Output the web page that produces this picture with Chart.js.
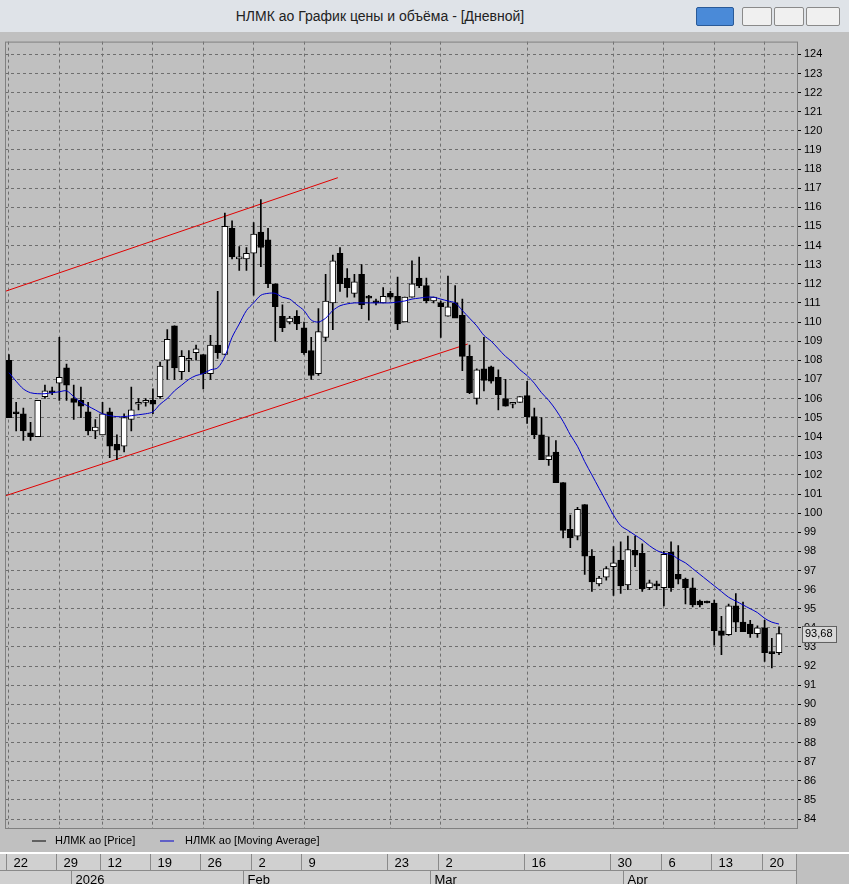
<!DOCTYPE html>
<html><head><meta charset="utf-8">
<script src="https://cdn.jsdelivr.net/npm/chart.js@4.4.1/dist/chart.umd.min.js"></script>
<style>
body{margin:0;width:849px;height:884px;overflow:hidden;background:#c0c0c0;font-family:"Liberation Sans",Arial,sans-serif;}
#title{position:absolute;left:0;top:0;width:849px;height:32px;background:#dfe3e8;border-bottom:1px solid #a8a8a8;}
#title .t{position:absolute;left:0;width:760px;top:8px;text-align:center;font-size:14px;color:#222;}
.btn{position:absolute;top:7px;height:17px;border:1px solid #8a8a8a;background:#f0f0f0;border-radius:2px;}
#wrap{position:absolute;left:0;top:32px;width:849px;height:852px;}
</style></head><body>
<div id="title"><div class="t">НЛМК ао График цены и объёма - [Дневной]</div>
<div class="btn" style="left:696px;width:36px;background:#4a8ad8;border-color:#2a5a98"></div>
<div class="btn" style="left:742px;width:28px"></div>
<div class="btn" style="left:774px;width:28px"></div>
<div class="btn" style="left:806px;width:32px"></div></div>
<div id="wrap"><canvas id="c" width="849" height="852"></canvas></div>
<script>
// candles: open, high, low, close
const opens=[108.0,105.3,105.2,104.2,104.0,106.1,106.4,106.8,107.6,106.0,105.9,105.3,104.3,104.1,105.3,103.6,103.5,104.9,105.7,105.8,105.9,106.1,108.0,109.8,107.4,108.0,108.4,108.3,107.3,108.8,108.3,114.9,113.3,113.3,113.6,114.7,114.3,112.0,110.3,110.0,110.3,109.7,108.5,107.3,109.2,111.0,113.6,112.3,111.5,112.5,111.3,111.1,111.0,111.5,111.35,110.0,111.3,112.3,111.9,111.1,111.0,110.3,111.0,110.35,108.2,106.0,107.55,107.65,107.1,106.0,105.7,105.8,106.15,105.05,104.1,102.8,103.2,101.6,99.15,98.8,100.45,97.75,96.3,96.65,97.2,97.55,96.25,98.05,97.9,96.1,96.25,96.1,97.95,96.8,96.55,96.1,95.4,95.35,95.3,93.85,93.65,95.15,94.3,94.2,93.7,94.0,92.7,92.7];
const highs=[108.3,105.8,105.5,104.75,105.9,106.7,106.6,109.2,107.8,106.7,106.6,105.8,104.9,105.8,105.5,104.1,105.2,106.6,106.0,106.0,106.5,107.9,109.6,109.8,108.5,108.5,108.8,108.3,109.3,111.6,115.7,115.3,113.95,113.9,115.2,116.4,114.9,112.0,110.9,110.3,110.6,110.0,109.2,110.7,112.5,113.5,113.9,112.8,112.5,113.0,111.4,111.2,111.8,111.6,112.35,111.3,113.2,113.4,112.3,111.3,111.1,112.4,111.9,111.2,108.8,107.55,109.2,107.7,107.5,107.0,105.8,106.1,106.9,105.5,105.0,104.0,103.8,101.6,99.9,100.3,100.45,98.1,96.7,97.2,98.25,98.5,98.8,98.8,98.4,96.5,96.45,98.0,98.5,98.3,96.6,96.6,95.45,95.4,95.45,94.6,95.25,95.8,95.35,94.4,94.1,94.4,93.45,94.05];
const lows=[105.0,104.3,103.8,103.8,104.0,106.0,106.2,105.9,105.9,104.9,105.0,104.1,103.9,104.1,102.9,102.8,103.2,104.3,105.4,105.6,105.2,106.0,107.0,107.0,107.0,107.4,108.0,106.5,107.0,108.1,108.3,113.3,112.7,112.7,111.4,112.9,111.8,109.0,109.5,109.9,109.6,108.3,107.0,107.2,109.0,109.6,111.6,111.3,111.3,110.7,110.1,110.9,111.0,111.2,109.6,110.0,111.3,111.8,111.0,111.0,109.2,110.3,110.6,107.45,106.25,105.7,106.4,106.8,105.4,105.6,105.5,105.8,104.7,103.9,102.8,102.5,101.6,98.7,98.2,98.6,96.8,95.9,96.2,96.5,95.7,95.8,96.0,97.2,95.9,96.0,96.0,95.15,95.9,96.3,95.25,95.1,95.1,95.3,93.1,92.6,93.6,93.8,93.8,93.5,93.5,92.25,91.9,92.6];
const closes=[105.0,105.2,104.3,104.0,105.9,106.4,106.3,107.1,106.7,105.8,105.6,104.3,104.5,105.2,103.5,103.3,105.0,105.4,105.8,105.8,105.7,107.7,109.1,107.6,108.2,108.0,108.6,107.3,108.8,108.4,115.0,113.4,113.3,113.6,114.6,113.9,112.0,110.8,109.7,110.2,109.9,108.4,107.2,109.5,111.1,113.2,112.0,111.8,112.1,110.9,111.25,111.0,111.35,111.3,109.9,111.3,112.0,111.9,111.1,111.3,110.8,110.8,110.2,108.2,106.3,107.5,106.95,106.9,106.2,105.6,105.8,106.1,105.05,104.1,102.8,103.0,101.6,99.1,98.7,100.2,97.75,96.4,96.6,97.1,97.4,96.2,98.1,97.8,96.05,96.35,96.2,97.85,96.1,96.55,96.1,95.2,95.2,95.3,93.85,93.6,95.15,94.3,93.8,93.7,94.0,92.7,92.65,93.7];
const movingAvg=[107.35,106.9,106.5,106.3,106.25,106.25,106.3,106.35,106.4,106.1,105.8,105.6,105.4,105.2,105.1,105.05,105.05,105.1,105.15,105.2,105.3,105.7,106.0,106.4,106.7,107.0,107.2,107.3,107.5,107.6,108.2,109.2,109.9,110.6,111.0,111.4,111.5,111.5,111.3,111.2,110.9,110.6,110.1,110.0,110.2,110.6,110.85,110.95,111.0,111.0,111.0,111.0,111.0,111.0,111.05,111.1,111.2,111.25,111.3,111.3,111.2,111.1,111.0,110.6,110.2,109.8,109.3,109.0,108.6,108.2,107.9,107.5,107.2,106.8,106.3,105.9,105.4,104.8,104.1,103.5,102.7,102.0,101.3,100.6,99.9,99.35,99.1,98.85,98.6,98.3,98.05,97.9,97.85,97.6,97.4,97.1,96.8,96.5,96.2,95.9,95.6,95.4,95.2,95.0,94.8,94.5,94.3,94.2];
const trendUpper=[[-0.56,111.6],[45.7,117.55]];
const trendLower=[[-0.56,100.9],[63.75,108.85]];
const dayTickIdx=[0,7,13,20,27,34,41,53,60,72,84,91,98,105];
const dayTickLabels=["22","29","12","19","26","2","9","23","2","16","30","6","13","20"];
const monthIdx=[9.0,33.0,58.9,85.8];
const monthLabels=["2026","Feb","Mar","Apr"];
const lastPrice=93.68;

const idx=opens.map((_,i)=>i);
const wick=idx.map(i=>({x:i,y:[lows[i],highs[i]]}));
const body=idx.map(i=>({x:i,y:[opens[i],closes[i]]}));
const bodyColor=idx.map(i=>closes[i]>=opens[i]?'#ffffff':'#000000');

const extra={id:'extra',afterDraw(ch){
 const c=ch.ctx,a=ch.chartArea,xs=ch.scales.x,ys=ch.scales.y;
 c.save();
 c.strokeStyle='#808080';c.lineWidth=1;c.strokeRect(a.left+0.5,a.top+0.5,a.right-a.left,a.bottom-a.top);
 const py=ys.getPixelForValue(lastPrice);
 c.fillStyle='#d8d8d8';c.fillRect(a.right+5,py-8,34,16);c.strokeStyle='#606060';c.strokeRect(a.right+5.5,py-7.5,34,16);
 c.fillStyle='#000';c.font='11px "Liberation Sans", Arial';c.textBaseline='middle';c.fillText('93,68',a.right+8,py);
 const ly=a.bottom+13;
 c.strokeStyle='#000';c.beginPath();c.moveTo(32,ly);c.lineTo(46,ly);c.stroke();
 c.strokeStyle='#0000cc';c.beginPath();c.moveTo(160,ly);c.lineTo(174,ly);c.stroke();
 c.fillStyle='#000';c.font='11px "Liberation Sans Narrow","Liberation Sans", Arial';
 c.fillText('НЛМК ао [Price]',55,ly);c.fillText('НЛМК ао [Moving Average]',185,ly);
 c.fillStyle='#ffffff';c.fillRect(0,a.bottom+24,849,2);
 const top=a.bottom+26;
 c.fillStyle='#d0d0d0';c.fillRect(0,top,849,40);
 c.fillStyle='#c0c0c0';c.fillRect(796,top,53,40);
 c.strokeStyle='#8a8a8a';c.lineWidth=1;
 c.beginPath();c.moveTo(0,top+16.5);c.lineTo(796,top+16.5);c.stroke();
 c.font='13px "Liberation Sans Narrow","Liberation Sans", Arial';c.fillStyle='#000';c.textBaseline='middle';
 dayTickIdx.forEach((v,k)=>{const x=Math.round(xs.getPixelForValue(v))-2.5;
  c.beginPath();c.moveTo(x,top);c.lineTo(x,top+16);c.stroke();c.fillText(dayTickLabels[k],x+7,top+9);});
 monthIdx.forEach((v,k)=>{const x=Math.round(xs.getPixelForValue(v))-2.5;
  c.beginPath();c.moveTo(x,top+17);c.lineTo(x,top+34);c.stroke();c.fillText(monthLabels[k],x+4,top+26);});
 c.beginPath();c.moveTo(796.5,top);c.lineTo(796.5,top+34);c.stroke();
 c.restore();
}};
const bg={id:'bg',beforeDraw(ch){const c=ch.ctx;c.save();c.fillStyle='#c0c0c0';c.fillRect(0,0,ch.width,ch.height);c.restore();}};

new Chart(document.getElementById('c'),{
 data:{datasets:[
  {type:'line',data:trendUpper.map(p=>({x:p[0],y:p[1]})),borderColor:'#e00000',borderWidth:1,pointRadius:0,order:5},
  {type:'line',data:trendLower.map(p=>({x:p[0],y:p[1]})),borderColor:'#e00000',borderWidth:1,pointRadius:0,order:5},
  {type:'bar',data:wick,backgroundColor:'#000',barThickness:1,grouped:false,order:3},
  {type:'bar',data:body,backgroundColor:bodyColor,borderColor:'#000',borderWidth:1,borderSkipped:false,barThickness:6,minBarLength:2,grouped:false,order:2},
  {type:'line',data:idx.map(i=>({x:i,y:movingAvg[i]})),borderColor:'#0000cc',borderWidth:1,pointRadius:0,tension:0.3,order:1}
 ]},
 options:{responsive:false,animation:false,devicePixelRatio:1,
  layout:{padding:{left:5,top:3,right:0,bottom:56}},
  plugins:{legend:{display:false},tooltip:{enabled:false}},
  scales:{
   x:{type:'linear',min:-0.55,max:109.5,offset:false,
    afterBuildTicks(s){s.ticks=dayTickIdx.map(v=>({value:v}));},
    afterFit(s){s.height=0;},
    ticks:{display:false},border:{display:false,dash:[3,3]},
    grid:{color:'#6e6e6e',drawTicks:false,offset:false}},
   y:{position:'right',min:83.53,max:124.67,
    afterBuildTicks(s){const t=[];for(let v=84;v<=124;v++)t.push({value:v});s.ticks=t;},
    afterFit(s){s.width=52;},
    ticks:{color:'#000',font:{size:11,family:'"Liberation Sans", Arial'},padding:3},
    border:{display:false,dash:[3,3]},
    grid:{color:'#6e6e6e',tickLength:4,tickColor:'#000'}}
  }},
 plugins:[bg,extra]
});
</script></body></html>
